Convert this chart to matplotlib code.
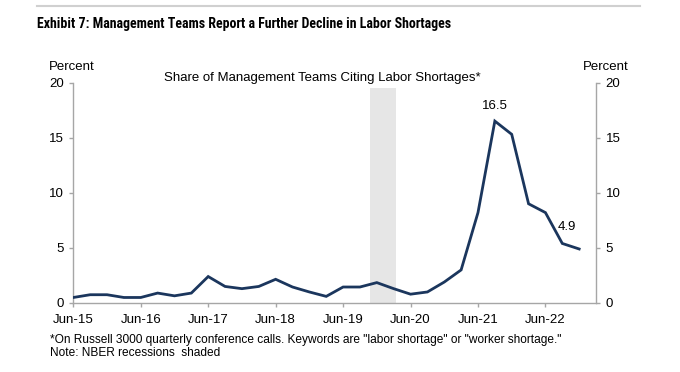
import os
import matplotlib
matplotlib.use("Agg")
import matplotlib.pyplot as plt
from matplotlib import font_manager

# quarterly share of management teams citing labor shortages, Jun-15 .. Dec-22
values = [0.5, 0.75, 0.75, 0.5, 0.5, 0.9, 0.65, 0.9, 2.4, 1.5, 1.3, 1.5, 2.15, 1.45, 1.0, 0.6,
          1.45, 1.45, 1.85, 1.3, 0.8, 1.0, 1.9, 3.0, 8.2, 16.5, 15.3, 9.0, 8.2, 5.4, 4.9]
tick_labels = ["Jun-15", "Jun-16", "Jun-17", "Jun-18", "Jun-19", "Jun-20", "Jun-21", "Jun-22"]
recession = (17.57, 19.13)  # in quarters from Jun-15
callouts = [(25, "16.5"), (30, "4.9")]

names = {f.name for f in font_manager.fontManager.ttflist}
base = "Liberation Sans" if "Liberation Sans" in names else "DejaVu Sans"

# narrow bold face for the heading, best guess first
wanted = ["LiberationSansNarrow-Bold.", "RobotoCondensed-Bold.", "OpenSans_Condensed-Bold.",
          "OpenSans-CondBold.", "OpenSansCondensed-Bold.", "DejaVuSansCondensed-Bold."]
files = [f.fname for f in font_manager.fontManager.ttflist]
narrow = None
for w in wanted:
    hits = [p for p in files if os.path.basename(p).startswith(w)]
    if hits:
        narrow = hits[0]
        break

plt.rcParams['font.family'] = [base, 'DejaVu Sans']

navy = "#1b365d"
grey = "#a6a6a6"

fig = plt.figure(figsize=(6.8, 3.72), dpi=100)
ax = fig.add_axes([0.1078, 0.1855, 0.7687, 0.5927])

x = list(range(len(values)))
ax.axvspan(recession[0], recession[1], ymin=0, ymax=0.975, color="#e6e6e6", lw=0, zorder=0)
ax.plot(x, values, color=navy, lw=2.0, solid_joinstyle="miter", zorder=3)

ax.set_xlim(0, 31)
ax.set_ylim(0, 20)
ax.set_yticks([0, 5, 10, 15, 20])
ax.set_xticks(range(0, 29, 4))
ax.set_xticklabels(tick_labels)

ax.spines["top"].set_visible(False)
for s in ["left", "right", "bottom"]:
    ax.spines[s].set_color(grey)
    ax.spines[s].set_linewidth(1.0)
ax.tick_params(axis="both", colors=grey, labelcolor="black", labelsize=9.5, length=3, width=1)
ax.tick_params(axis="y", left=True, right=True, labelleft=True, labelright=True, pad=4)
ax.tick_params(axis="x", pad=5)

# labels for the peak and last value
ax.text(callouts[0][0], values[callouts[0][0]] + 0.8, callouts[0][1], ha="center", va="bottom", fontsize=9.5)
ax.text(29.3, 6.9, callouts[1][1], ha="center", va="center", fontsize=9.5)

fig.text(322 / 680, 1 - 78 / 372, "Share of Management Teams Citing Labor Shortages*",
         ha="center", va="center", fontsize=9.5)
fig.text(72 / 680, 1 - 67 / 372, "Percent", ha="center", va="center", fontsize=9.5)
fig.text(606 / 680, 1 - 67 / 372, "Percent", ha="center", va="center", fontsize=9.5)

if narrow:
    title_font = font_manager.FontProperties(fname=narrow, size=10.5)
else:
    title_font = font_manager.FontProperties(family=base, weight="bold", size=10.5)
title = fig.text(37 / 680, 1 - 24 / 372,
                 "Exhibit 7: Management Teams Report a Further Decline in Labor Shortages",
                 ha="left", va="center", fontproperties=title_font)
fig.canvas.draw()
w = title.get_window_extent().width
title.set_fontsize(10.5 * 416 / w)
fig.add_artist(plt.Line2D([37 / 680, 640 / 680], [1 - 6 / 372, 1 - 6 / 372], color="#d0d0d0", lw=1.5))

fig.text(50 / 680, 1 - 340 / 372,
         '*On Russell 3000 quarterly conference calls. Keywords are "labor shortage" or "worker shortage."',
         ha="left", va="center", fontsize=8.6)
fig.text(50 / 680, 1 - 353 / 372, "Note: NBER recessions  shaded", ha="left", va="center", fontsize=8.6)

fig.savefig("out.png", dpi=100)
